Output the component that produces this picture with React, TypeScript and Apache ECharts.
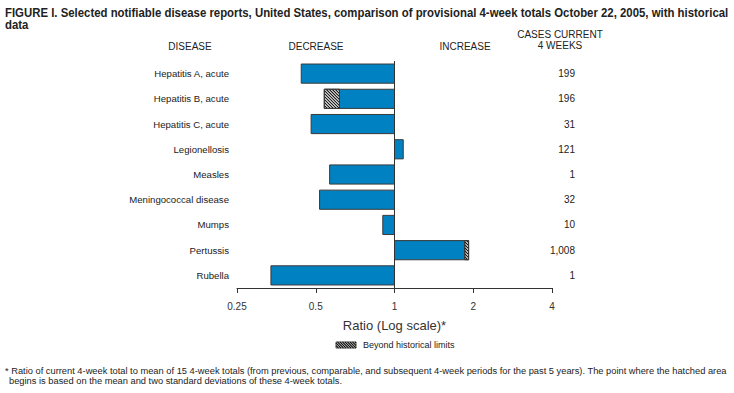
import React, { useEffect, useRef } from "react";
import * as echarts from "echarts";

const diseases = [
  "Hepatitis A, acute",
  "Hepatitis B, acute",
  "Hepatitis C, acute",
  "Legionellosis",
  "Measles",
  "Meningococcal disease",
  "Mumps",
  "Pertussis",
  "Rubella",
];
const ratios = [0.44, 0.539, 0.48, 1.08, 0.565, 0.517, 0.902, 1.92, 0.337];
// value where the hatched (beyond historical limits) part begins; null = none
const hatchStart: (number | null)[] = [null, 0.616, null, null, null, null, null, 1.855, null];
const cases = ["199", "196", "31", "121", "1", "32", "10", "1,008", "1"];
const xTicks = [0.25, 0.5, 1, 2, 4];

const TITLE1 = "FIGURE I. Selected notifiable disease reports, United States, comparison of provisional 4-week totals October 22, 2005, with historical";
const TITLE2 = "data";
const FOOT1 = "* Ratio of current 4-week total to mean of 15 4-week totals (from previous, comparable, and subsequent 4-week periods for the past 5 years). The point where the hatched area";
const FOOT2 = "begins is based on the mean and two standard deviations of these 4-week totals.";

const BLUE = "#0081C1";
const EDGE = "#3a3a3a";
const TEXT = "#222";
const SANS = "'Liberation Sans', Arial, Helvetica, sans-serif";

function measure(text: string, font: string) {
  const c = document.createElement("canvas").getContext("2d");
  if (!c) return text.length * 6;
  c.font = font;
  return c.measureText(text).width;
}

function hatchLines(x0: number, x1: number, y0: number, y1: number, step: number) {
  const h = y1 - y0;
  const out: any[] = [];
  for (let c = x0 - h; c < x1; c += step) {
    const xa = Math.max(c, x0);
    const xb = Math.min(c + h, x1);
    if (xb <= xa) continue;
    out.push({
      type: "line",
      shape: { x1: xa, y1: y0 + (xa - c), x2: xb, y2: y0 + (xb - c) },
      style: { stroke: "#111", lineWidth: 1.1 },
    });
  }
  return out;
}

export default function App() {
  const ref = useRef<HTMLDivElement>(null);
  useEffect(() => {
    if (!ref.current) return;
    const chart = echarts.init(ref.current, undefined, { renderer: "svg" });
    const data = ratios.map((r, i) => [i, r]);

    const titleFont = "bold 13px 'Liberation Sans'";
    const titleScale = 723 / measure(TITLE1, titleFont);
    const footFont = "8.5px 'Liberation Sans'";
    const footScale = 722 / measure(FOOT1, footFont);

    const option: any = {
      animation: false,
      backgroundColor: "#fff",
      grid: { left: 237, right: 182, top: 61, height: 227, containLabel: false },
      xAxis: {
        type: "log",
        logBase: 2,
        min: xTicks[0],
        max: xTicks[xTicks.length - 1],
        axisLine: { show: true, lineStyle: { color: "#333", width: 1 } },
        axisTick: { show: true, length: 5, lineStyle: { color: "#333" } },
        axisLabel: { fontSize: 10, color: "#333", margin: 13, fontFamily: SANS },
        splitLine: { show: false },
        name: "Ratio (Log scale)*",
        nameLocation: "middle",
        nameGap: 31,
        nameTextStyle: { fontSize: 13, color: "#333", fontFamily: SANS },
      },
      yAxis: [
        {
          type: "category",
          data: diseases,
          inverse: true,
          axisLine: { show: false },
          axisTick: { show: false },
          axisLabel: { fontSize: 9.6, color: TEXT, margin: 8, fontFamily: SANS },
        },
        {
          type: "category",
          data: cases,
          inverse: true,
          position: "right",
          axisLine: { show: false },
          axisTick: { show: false },
          axisLabel: { fontSize: 10, color: TEXT, margin: 23, align: "right", fontFamily: SANS },
        },
      ],
      series: [
        {
          type: "custom",
          xAxisIndex: 0,
          yAxisIndex: 0,
          encode: { x: 1, y: 0 },
          data,
          renderItem: (params: any, api: any) => {
            const cat = api.value(0);
            const r = api.value(1);
            const i = params.dataIndex;
            const band = api.size([1, 1])[1];
            const bh = band * 0.76;
            const pBase = api.coord([1, cat]);
            const pEnd = api.coord([r, cat]);
            const y0 = pBase[1] - bh / 2;
            const y1 = y0 + bh;
            const children: any[] = [];
            const hs = hatchStart[i];
            const blueEndX = hs != null ? api.coord([hs, cat])[0] : pEnd[0];
            const bx0 = Math.min(pBase[0], blueEndX);
            const bx1 = Math.max(pBase[0], blueEndX);
            children.push({
              type: "rect",
              shape: { x: bx0, y: y0, width: bx1 - bx0, height: bh },
              style: { fill: BLUE, stroke: EDGE, lineWidth: 1 },
            });
            if (hs != null) {
              const hx0 = Math.min(blueEndX, pEnd[0]);
              const hx1 = Math.max(blueEndX, pEnd[0]);
              children.push({
                type: "rect",
                shape: { x: hx0, y: y0, width: hx1 - hx0, height: bh },
                style: { fill: "#fff", stroke: EDGE, lineWidth: 1 },
              });
              children.push(...hatchLines(hx0, hx1, y0, y1, 3));
              children.push({
                type: "rect",
                shape: { x: hx0, y: y0, width: hx1 - hx0, height: bh },
                style: { fill: "none", stroke: EDGE, lineWidth: 1 },
              });
            }
            return { type: "group", children };
          },
          markLine: {
            silent: true,
            symbol: "none",
            label: { show: false },
            lineStyle: { color: "#333", type: "solid", width: 1 },
            data: [{ xAxis: 1 }],
            z: 10,
          },
        },
      ],
      graphic: [
        { type: "text", x: 5, y: 13, scaleX: titleScale, style: { text: TITLE1, font: titleFont, fill: TEXT, verticalAlign: "middle" } },
        { type: "text", x: 5, y: 25, scaleX: titleScale, style: { text: TITLE2, font: titleFont, fill: TEXT, verticalAlign: "middle" } },
        { type: "text", x: 190, y: 46, style: { text: "DISEASE", fontSize: 10, fill: TEXT, fontFamily: SANS, align: "center", verticalAlign: "middle" } },
        { type: "text", x: 316, y: 46, style: { text: "DECREASE", fontSize: 10, fill: TEXT, fontFamily: SANS, align: "center", verticalAlign: "middle" } },
        { type: "text", x: 465, y: 46, style: { text: "INCREASE", fontSize: 10, fill: TEXT, fontFamily: SANS, align: "center", verticalAlign: "middle" } },
        { type: "text", x: 560, y: 34, style: { text: "CASES CURRENT", fontSize: 10, fill: TEXT, fontFamily: SANS, align: "center", verticalAlign: "middle" } },
        { type: "text", x: 560, y: 45, style: { text: "4 WEEKS", fontSize: 10, fill: TEXT, fontFamily: SANS, align: "center", verticalAlign: "middle" } },
        {
          type: "group",
          children: [
            { type: "rect", shape: { x: 336, y: 342, width: 20, height: 6 }, style: { fill: "#fff" } },
            ...hatchLines(336, 356, 342, 348, 2.5),
            { type: "rect", shape: { x: 336, y: 342, width: 20, height: 6 }, style: { fill: "none", stroke: "#222", lineWidth: 0.8 } },
          ],
        },
        { type: "text", x: 363, y: 345, style: { text: "Beyond historical limits", fontSize: 9, fill: TEXT, fontFamily: SANS, verticalAlign: "middle" } },
        { type: "text", x: 5, y: 371, scaleX: footScale, style: { text: FOOT1, font: footFont, fill: TEXT, verticalAlign: "middle" } },
        { type: "text", x: 9, y: 381, scaleX: footScale, style: { text: FOOT2, font: footFont, fill: TEXT, verticalAlign: "middle" } },
      ],
    };
    chart.setOption(option);
    return () => chart.dispose();
  }, []);
  return <div ref={ref} style={{ width: 734, height: 393, position: "absolute", left: 0, top: 0 }} />;
}
